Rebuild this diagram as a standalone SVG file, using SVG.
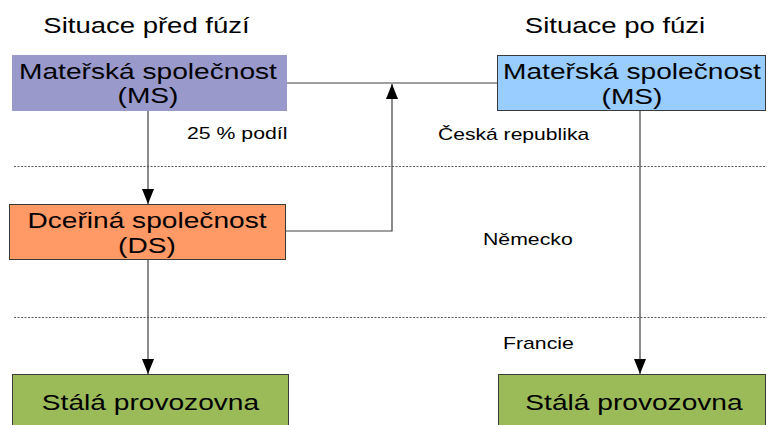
<svg xmlns="http://www.w3.org/2000/svg" width="767" height="425" viewBox="0 0 767 425">
  <style>
    text { font-family: "Liberation Sans", Arial, sans-serif; fill: #000; }
    .title { font-size: 22px; text-anchor: middle; }
    .box { font-size: 22.5px; text-anchor: middle; }
    .label { font-size: 17px; }
    .conn { fill: none; stroke: #404040; stroke-width: 1.2; }
    .zone { stroke: #5a5a5a; stroke-width: 1; stroke-dasharray: 2 1.5; }
    .edge { stroke: #3a3a3a; stroke-width: 1; }
  </style>
  <defs>
    <marker id="arrow" markerUnits="userSpaceOnUse" markerWidth="15" markerHeight="12" refX="15" refY="6" orient="auto">
      <path d="M0,0 L15,6 L0,12 z" fill="#000"/>
    </marker>
  </defs>

  <rect width="767" height="425" fill="#fff"/>

  <!-- column headings -->
  <text class="title" x="146.5" y="33" textLength="206.4" lengthAdjust="spacingAndGlyphs">Situace před fúzí</text>
  <text class="title" x="615" y="33" textLength="180.4" lengthAdjust="spacingAndGlyphs">Situace po fúzi</text>

  <!-- country borders -->
  <g id="zones">
    <line class="zone" x1="14" y1="166.5" x2="767" y2="166.5"/>
    <line class="zone" x1="14" y1="317.5" x2="767" y2="317.5"/>
    <text class="label" x="438" y="140" textLength="151.2" lengthAdjust="spacingAndGlyphs">Česká republika</text>
    <text class="label" x="483" y="245" textLength="89.7" lengthAdjust="spacingAndGlyphs">Německo</text>
    <text class="label" x="503" y="349" textLength="70.8" lengthAdjust="spacingAndGlyphs">Francie</text>
  </g>

  <!-- connectors -->
  <g id="connectors">
    <path class="conn" d="M287,83 H497"/>
    <path class="conn" d="M148,111 V204" marker-end="url(#arrow)"/>
    <text class="label" x="187" y="139" textLength="100.4" lengthAdjust="spacingAndGlyphs">25 % podíl</text>
    <path class="conn" d="M286,231 H392 V84" marker-end="url(#arrow)"/>
    <path class="conn" d="M148,260 V374" marker-end="url(#arrow)"/>
    <path class="conn" d="M640,111 V374" marker-end="url(#arrow)"/>
  </g>

  <!-- parent company before merger -->
  <g id="ms-before">
    <rect x="12" y="55" width="275" height="56" fill="#9999cc"/>
    <text class="box" x="148" y="79" textLength="257.9" lengthAdjust="spacingAndGlyphs">Mateřská společnost</text>
    <text class="box" x="148" y="103" textLength="60.9" lengthAdjust="spacingAndGlyphs">(MS)</text>
  </g>

  <!-- parent company after merger -->
  <g id="ms-after">
    <rect class="edge" x="497.5" y="55.5" width="268" height="55" fill="#99ccff"/>
    <text class="box" x="632" y="79" textLength="257.9" lengthAdjust="spacingAndGlyphs">Mateřská společnost</text>
    <text class="box" x="632" y="104" textLength="60.9" lengthAdjust="spacingAndGlyphs">(MS)</text>
  </g>

  <!-- subsidiary -->
  <g id="ds">
    <rect class="edge" x="9.5" y="204.5" width="276" height="55" fill="#ff9966"/>
    <text class="box" x="147" y="228" textLength="239.1" lengthAdjust="spacingAndGlyphs">Dceřiná společnost</text>
    <text class="box" x="147" y="253" textLength="57.8" lengthAdjust="spacingAndGlyphs">(DS)</text>
  </g>

  <!-- permanent establishment before merger -->
  <g id="pe-before">
    <rect class="edge" x="12.5" y="374.5" width="276" height="60" fill="#9bbb59"/>
    <text class="box" x="150.5" y="410" textLength="217.3" lengthAdjust="spacingAndGlyphs">Stálá provozovna</text>
  </g>

  <!-- permanent establishment after merger -->
  <g id="pe-after">
    <rect class="edge" x="498.5" y="374.5" width="267" height="60" fill="#9bbb59"/>
    <text class="box" x="634" y="410" textLength="217.3" lengthAdjust="spacingAndGlyphs">Stálá provozovna</text>
  </g>
</svg>
